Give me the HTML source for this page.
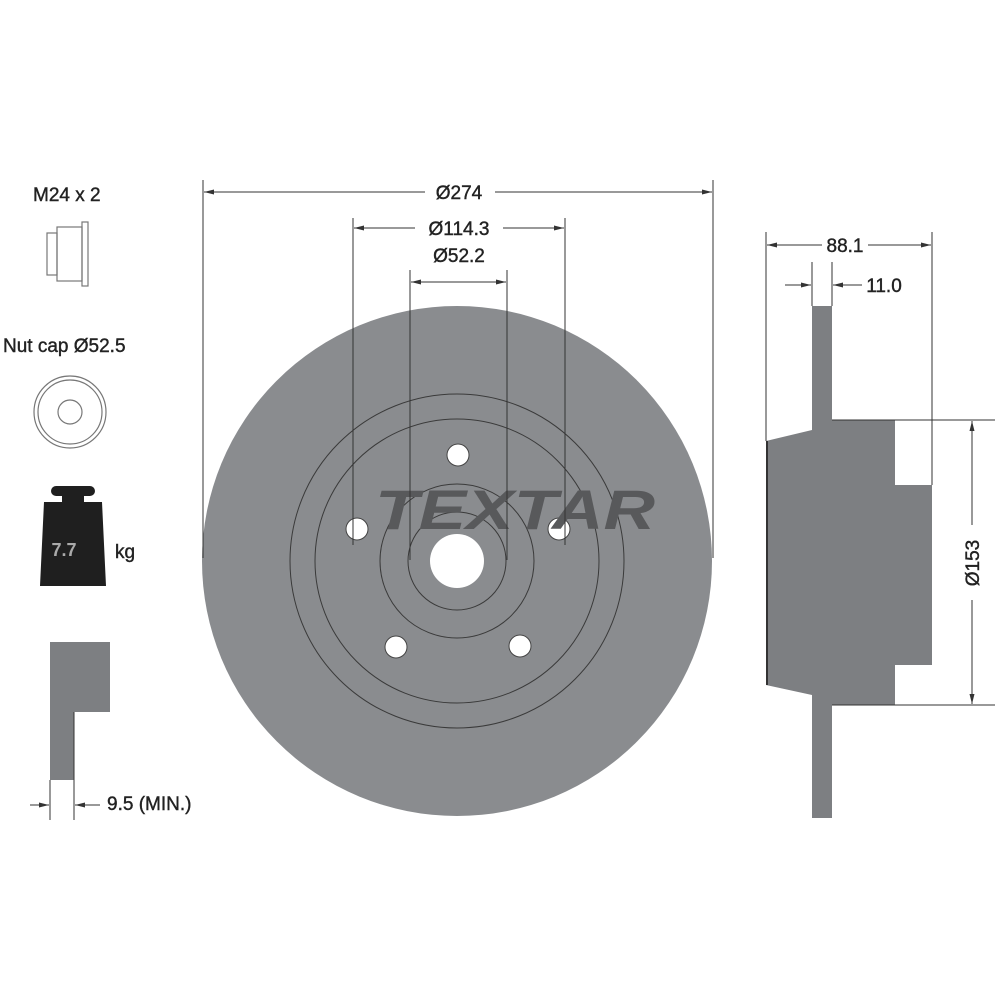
<!DOCTYPE html>
<html><head><style>body{margin:0;background:#fff}</style></head><body>
<svg width="1000" height="1000" viewBox="0 0 1000 1000" xmlns="http://www.w3.org/2000/svg" font-family="Liberation Sans, sans-serif">
<defs><marker id="a" markerWidth="10" markerHeight="6" refX="10" refY="3" orient="auto" markerUnits="userSpaceOnUse"><path d="M0,0.5 L10,3 L0,5.5z" fill="#333"/></marker></defs>
<rect width="1000" height="1000" fill="#fff"/>
<circle cx="457" cy="561" r="255" fill="#8a8c8f"/>
<g fill="none" stroke="#3a3a3a" stroke-width="1">
<circle cx="457" cy="561" r="167"/><circle cx="457" cy="561" r="142"/>
<circle cx="457" cy="561" r="77"/><circle cx="457" cy="561" r="49"/>
</g>
<circle cx="457" cy="561" r="27" fill="#fff"/>
<g fill="#fff" stroke="#444" stroke-width="1">
<circle cx="458" cy="455" r="11"/><circle cx="357" cy="529" r="11"/><circle cx="559" cy="529" r="11"/>
<circle cx="396" cy="647" r="11"/><circle cx="520" cy="646" r="11"/>
</g>
<text x="515" y="529" text-anchor="middle" font-weight="bold" font-style="italic" font-size="56" fill="#58595b" textLength="280" lengthAdjust="spacingAndGlyphs">TEXTAR</text>
<g stroke="#333" stroke-width="1">
<line x1="203" y1="180" x2="203" y2="558"/><line x1="713" y1="180" x2="713" y2="558"/>
<line x1="353" y1="218" x2="353" y2="545"/><line x1="565" y1="218" x2="565" y2="545"/>
<line x1="410" y1="270" x2="410" y2="560"/><line x1="507" y1="270" x2="507" y2="560"/>
<line x1="425" y1="192" x2="204" y2="192" marker-end="url(#a)"/><line x1="495" y1="192" x2="712" y2="192" marker-end="url(#a)"/>
<line x1="415" y1="228" x2="354" y2="228" marker-end="url(#a)"/><line x1="503" y1="228" x2="564" y2="228" marker-end="url(#a)"/>
<line x1="460" y1="282" x2="411" y2="282" marker-end="url(#a)"/><line x1="460" y1="282" x2="506" y2="282" marker-end="url(#a)"/>
</g>
<g font-size="19" fill="#222" text-anchor="middle" stroke="#222" stroke-width="0.4">
<text x="459" y="199">Ø274</text><text x="459" y="235">Ø114.3</text><text x="459" y="262">Ø52.2</text>
</g>
<polygon points="766,441 812,430 812,695 766,685" fill="#7d7f82"/>
<line x1="767" y1="441" x2="767" y2="685" stroke="#333" stroke-width="2"/>
<rect x="812" y="306" width="20" height="512" fill="#7d7f82"/>
<rect x="832" y="420" width="63" height="285" fill="#7d7f82"/>
<rect x="895" y="485" width="37" height="180" fill="#7d7f82"/>
<g stroke="#333" stroke-width="1">
<line x1="766" y1="232" x2="766" y2="441"/><line x1="932" y1="232" x2="932" y2="485"/>
<line x1="812" y1="262" x2="812" y2="306"/><line x1="832" y1="262" x2="832" y2="306"/>
<line x1="822" y1="245" x2="767" y2="245" marker-end="url(#a)"/><line x1="868" y1="245" x2="931" y2="245" marker-end="url(#a)"/>
<line x1="785" y1="285" x2="811" y2="285" marker-end="url(#a)"/><line x1="862" y1="285" x2="833" y2="285" marker-end="url(#a)"/>
<line x1="832" y1="420" x2="995" y2="420"/><line x1="832" y1="705" x2="995" y2="705"/>
<line x1="972" y1="525" x2="972" y2="421" marker-end="url(#a)"/><line x1="972" y1="600" x2="972" y2="704" marker-end="url(#a)"/>
</g>
<g font-size="19" fill="#222" stroke="#222" stroke-width="0.4">
<text x="845" y="252" text-anchor="middle">88.1</text>
<text x="884" y="292" text-anchor="middle">11.0</text>
<text x="0" y="0" text-anchor="middle" transform="translate(979,563) rotate(-90)">Ø153</text>
<text x="33" y="201">M24 x 2</text>
<text x="3" y="352">Nut cap Ø52.5</text>
<text x="115" y="558">kg</text>
<text x="107" y="810">9.5 (MIN.)</text>
</g>
<g fill="none" stroke="#777" stroke-width="1.2">
<rect x="47" y="233" width="10" height="42"/><rect x="57" y="227" width="25" height="54"/><rect x="82" y="222" width="6" height="64"/>
<circle cx="70" cy="412" r="36"/><circle cx="70" cy="412" r="32"/><circle cx="70" cy="412" r="12"/>
</g>
<path d="M58,486 h32 a5,5 0 0 1 0,10 h-6 v6 h18 l4,84 h-66 l4,-84 h18 v-6 h-6 a5,5 0 0 1 0,-10z" fill="#1f1f1f"/>
<text x="64" y="556" font-size="18" font-weight="bold" fill="#aaa" text-anchor="middle">7.7</text>
<rect x="50" y="642" width="24" height="138" fill="#7d7f82"/>
<rect x="74" y="642" width="36" height="70" fill="#7d7f82"/>
<g stroke="#333" stroke-width="1">
<line x1="50" y1="780" x2="50" y2="820"/><line x1="74" y1="712" x2="74" y2="820"/>
<line x1="30" y1="805" x2="49" y2="805" marker-end="url(#a)"/><line x1="100" y1="805" x2="75" y2="805" marker-end="url(#a)"/>
</g>
</svg>
</body></html>
